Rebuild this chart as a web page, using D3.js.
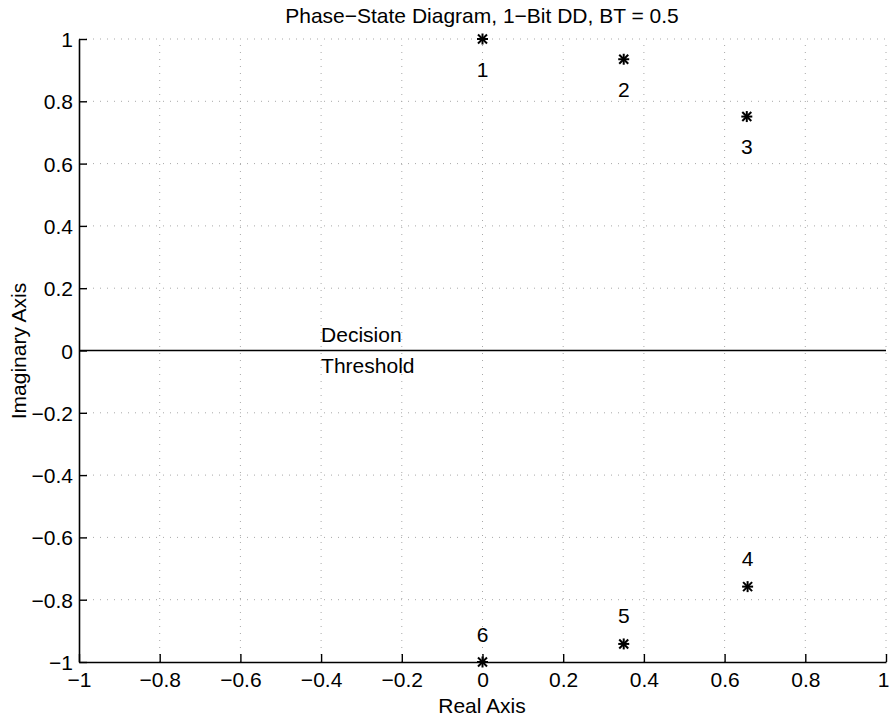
<!DOCTYPE html>
<html>
<head>
<meta charset="utf-8">
<script src="https://cdn.jsdelivr.net/npm/d3@7"></script>
<style>
  html, body { margin: 0; padding: 0; background: #fff; }
  svg { display: block; font-family: "Liberation Sans", Arial, Helvetica, sans-serif; }
</style>
</head>
<body>
<svg id="chart" width="890" height="721"></svg>
<script>
// Phase states of 1-bit differential detection, GMSK with BT = 0.5
const stateLabels = ["1", "2", "3", "4", "5", "6"];
const realParts   = [0.0, 0.35, 0.655, 0.657, 0.35, 0.0];
const imagParts   = [1.0, 0.935, 0.751, -0.758, -0.942, -1.0];

const xTicks = [-1, -0.8, -0.6, -0.4, -0.2, 0, 0.2, 0.4, 0.6, 0.8, 1];
const yTicks = [-1, -0.8, -0.6, -0.4, -0.2, 0, 0.2, 0.4, 0.6, 0.8, 1];

const titleText = "Phase\u2212State Diagram, 1\u2212Bit DD, BT = 0.5";
const xLabelText = "Real Axis";
const yLabelText = "Imaginary Axis";
const thresholdText = ["Decision", "Threshold"];

const fmt = v => (v === 0 ? "0" : String(v).replace("-", "\u2212"));

const svg = d3.select("#chart");
const plotLeft = 79, plotRight = 886, plotTop = 39, plotBottom = 662;

const x = d3.scaleLinear().domain([-1, 1]).range([plotLeft, plotRight]);
const y = d3.scaleLinear().domain([-1, 1]).range([plotBottom, plotTop]);

// dotted grid
const grid = svg.append("g").attr("stroke", "#a8a8a8").attr("stroke-width", 1)
  .attr("stroke-dasharray", "1,6").attr("fill", "none");
grid.selectAll(".gx").data(xTicks.filter(d => d !== -1)).enter().append("line")
  .attr("x1", d => x(d)).attr("x2", d => x(d)).attr("y1", y(-1)).attr("y2", y(1));
grid.selectAll(".gy").data(yTicks.filter(d => d !== -1)).enter().append("line")
  .attr("x1", x(-1)).attr("x2", x(1)).attr("y1", d => y(d)).attr("y2", d => y(d));

// axes with inward ticks
const xAxis = d3.axisBottom(x).tickValues(xTicks).tickFormat(fmt).tickSizeInner(-8).tickSizeOuter(0).tickPadding(10);
const yAxis = d3.axisLeft(y).tickValues(yTicks).tickFormat(fmt).tickSizeInner(-8).tickSizeOuter(0).tickPadding(6);

const gx = svg.append("g").attr("transform", `translate(0,${plotBottom})`).call(xAxis);
const gy = svg.append("g").attr("transform", `translate(${plotLeft},0)`).call(yAxis);
[gx, gy].forEach(g => {
  g.select(".domain").attr("stroke", "#000").attr("stroke-width", 1.6);
  g.selectAll(".tick line").attr("stroke", "#000").attr("stroke-width", 1.4);
  g.selectAll(".tick text").attr("fill", "#000").attr("font-size", 21)
    .attr("font-family", "Liberation Sans, Arial, sans-serif");
});
gy.selectAll(".tick text").attr("dy", "0.36em");
gx.selectAll(".tick text").filter(d => d === 1).attr("dx", -3);

// decision threshold along the real axis
svg.append("line")
  .attr("x1", x(-1)).attr("x2", x(1)).attr("y1", y(0)).attr("y2", y(0))
  .attr("stroke", "#000").attr("stroke-width", 1.6);
svg.append("text").attr("x", x(-0.4)).attr("y", y(0) - 9)
  .attr("font-size", 21).attr("fill", "#000").text(thresholdText[0]);
svg.append("text").attr("x", x(-0.4)).attr("y", y(0) + 22)
  .attr("font-size", 21).attr("fill", "#000").text(thresholdText[1]);

// phase-state markers (asterisks)
const states = stateLabels.map((lab, i) => ({ lab, re: realParts[i], im: imagParts[i] }));
const r = 5.5, rd = 4.5;
const mk = svg.append("g").selectAll("g").data(states).enter().append("g")
  .attr("transform", d => `translate(${x(d.re)},${y(d.im)})`)
  .attr("stroke", "#000").attr("stroke-width", 2);
mk.append("line").attr("x1", -r).attr("x2", r).attr("y1", 0).attr("y2", 0);
mk.append("line").attr("x1", 0).attr("x2", 0).attr("y1", -r).attr("y2", r);
mk.append("line").attr("x1", -rd).attr("x2", rd).attr("y1", -rd).attr("y2", rd);
mk.append("line").attr("x1", -rd).attr("x2", rd).attr("y1", rd).attr("y2", -rd);

// state numbers: below the upper states, above the lower ones
svg.append("g").selectAll("text").data(states).enter().append("text")
  .attr("x", d => x(d.re))
  .attr("y", d => y(d.im) + (d.im > 0 ? 30 : -28))
  .attr("dy", "0.36em")
  .attr("text-anchor", "middle").attr("font-size", 21).attr("fill", "#000")
  .text(d => d.lab);

// title and axis labels
svg.append("text").attr("x", 482).attr("y", 23).attr("text-anchor", "middle")
  .attr("font-size", 21).attr("fill", "#000").text(titleText);
svg.append("text").attr("x", 482).attr("y", 713).attr("text-anchor", "middle")
  .attr("font-size", 21).attr("fill", "#000").text(xLabelText);
svg.append("text").attr("transform", `translate(26,351) rotate(-90)`)
  .attr("text-anchor", "middle").attr("font-size", 21).attr("fill", "#000").text(yLabelText);
</script>
</body>
</html>
